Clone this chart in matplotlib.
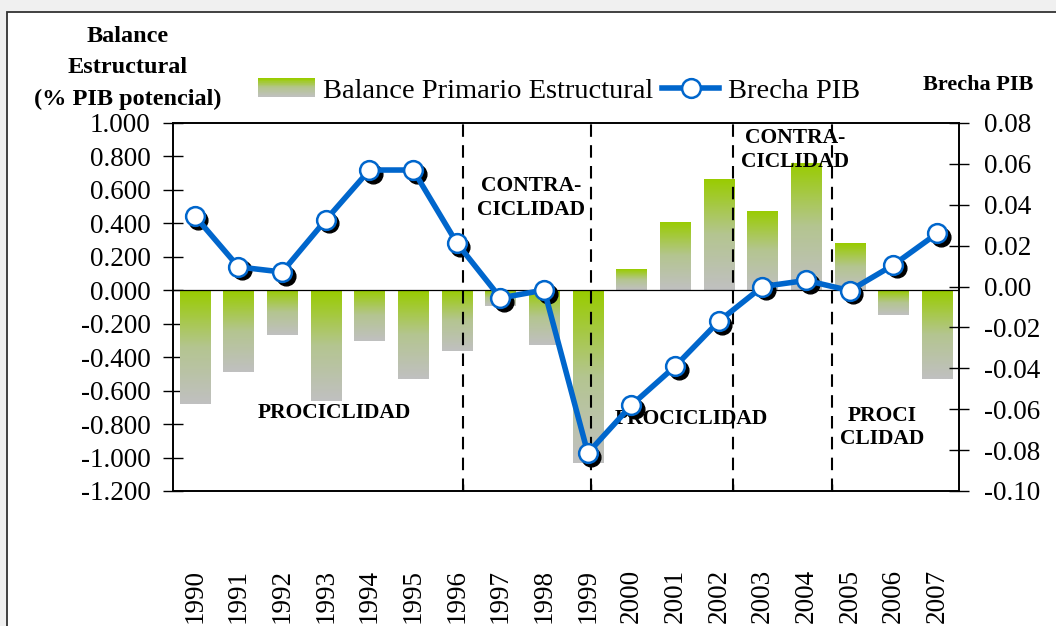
import numpy as np
import matplotlib
matplotlib.use('Agg')
import matplotlib.pyplot as plt
from matplotlib.patches import Rectangle
from matplotlib.lines import Line2D
from matplotlib.legend_handler import HandlerBase
from matplotlib.colors import LinearSegmentedColormap
import matplotlib.transforms as mtransforms
from matplotlib.ticker import FuncFormatter, FixedLocator

# ---------------- data ----------------
years = [str(y) for y in range(1990, 2008)]
balance = [-0.68, -0.49, -0.27, -0.66, -0.305, -0.53, -0.365, -0.095, -0.33,
           -1.03, 0.125, 0.41, 0.665, 0.473, 0.76, 0.28, -0.145, -0.53]
brecha = [0.0345, 0.0096, 0.0071, 0.0326, 0.057, 0.057, 0.0213, -0.0056, -0.0017,
          -0.0815, -0.058, -0.039, -0.017, 0.000, 0.003, -0.002, 0.0106, 0.026]
phase_bounds = [6.13, 9.08, 12.33, 14.6]
phase_labels = ['PROCICLIDAD', 'CONTRA-\nCICLIDAD', 'PROCICLIDAD',
                'CONTRA-\nCICLIDAD', 'PROCI\nCLIDAD']
left_ticks = [-1.2, -1.0, -0.8, -0.6, -0.4, -0.2, 0.0, 0.2, 0.4, 0.6, 0.8, 1.0]
right_ticks = [-0.10, -0.08, -0.06, -0.04, -0.02, 0.00, 0.02, 0.04, 0.06, 0.08]
bar_label = 'Balance Primario Estructural'
line_label = 'Brecha PIB'
left_title = 'Balance\nEstructural\n(% PIB potencial)'
right_title = 'Brecha PIB'

# ---------------- style ----------------
plt.rcParams['font.family'] = ['Liberation Serif', 'DejaVu Serif']
plt.rcParams['axes.unicode_minus'] = False
FS = 19.5
BLUE = '#0066CC'
cmap = LinearSegmentedColormap.from_list('g', ['#C0C0C0', '#B4C590', '#99CC00'])


def fmt(decimals):
    def f(v, pos):
        v = round(v, decimals)
        if v == 0:
            v = 0.0
        return f'{v:.{decimals}f}'
    return FuncFormatter(f)


W, H = 1056, 626
fig = plt.figure(figsize=(W / 100, H / 100), dpi=100)
fig.patch.set_facecolor('#F0F0F0')
fig.patches.append(Rectangle((7 / W, -0.1), 1.2, (H - 12) / H + 0.1,
                             transform=fig.transFigure, facecolor='white',
                             edgecolor='#333333', lw=1.3, zorder=-10))

ax = fig.add_axes([173 / W, 1 - 491 / H, (959 - 173) / W, (491 - 123) / H])
ax.set_facecolor('none')
x = np.arange(len(years))
bw = 0.69
bars = ax.bar(x, balance, bw, color='none', edgecolor='none', zorder=2)
grad = np.linspace(1, 0, 64).reshape(-1, 1)
for rect in bars:
    x0, y0 = rect.get_x(), rect.get_y()
    w, h = rect.get_width(), rect.get_height()
    lo, hi = min(y0, y0 + h), max(y0, y0 + h)
    im = ax.imshow(grad, extent=[x0, x0 + w, lo, hi], aspect='auto',
                   cmap=cmap, vmin=0, vmax=1, origin='upper', zorder=2,
                   interpolation='bilinear')
    im.set_clip_path(rect)

ax.axhline(0, color='black', lw=0.9, zorder=3)
for b in phase_bounds:
    ax.axvline(b, color='black', lw=1.5, dashes=(6, 4), zorder=3)

ax.set_xlim(-0.5, len(years) - 0.5)
ax.set_ylim(-1.2, 1.0)
ax.set_yticks(left_ticks)
ax.yaxis.set_major_formatter(fmt(3))
ax.tick_params(axis='y', direction='inout', length=14, width=1, labelsize=FS, pad=9)
ax.set_xticks(x)
ax.set_xticklabels(years, rotation=90, fontsize=FS, va='top')
ax.tick_params(axis='x', length=0, pad=56)
ax.xaxis.set_minor_locator(FixedLocator(phase_bounds))
ax.tick_params(axis='x', which='minor', direction='in', length=5, width=1)
for s in ax.spines.values():
    s.set_linewidth(1.2)

# phase annotations
tkw = dict(fontsize=15.5, fontweight='bold', ha='center', va='center',
           linespacing=1.25, zorder=4)
ax.text(3.2, -0.735, phase_labels[0], **tkw)
ax.text(7.7, 0.55, phase_labels[1], **tkw)
ax.text(11.38, -0.77, phase_labels[2], **tkw)
ax.text(13.74, 0.837, phase_labels[3], **tkw)
ax.text(15.73, -0.82, phase_labels[4], **tkw)

# secondary axis
ax2 = ax.twinx()
ax2.set_ylim(-0.10, 0.08)
ax2.set_yticks(right_ticks)
ax2.yaxis.set_major_formatter(fmt(2))
ax2.tick_params(axis='y', direction='inout', length=14, width=1, labelsize=FS, pad=11)
for s in ax2.spines.values():
    s.set_linewidth(1.2)

shadow = mtransforms.offset_copy(ax2.transData, fig=fig, x=3.5, y=-3.5, units='dots')
ax2.plot(x, brecha, linestyle='none', marker='o', ms=13.5, mfc='black',
         mec='black', transform=shadow, zorder=4)
ax2.plot(x, brecha, color=BLUE, lw=4, marker='o', ms=13.5, mfc='white',
         mec=BLUE, mew=1.8, zorder=5)


class GradientHandler(HandlerBase):
    def create_artists(self, legend, orig_handle, xdescent, ydescent,
                       width, height, fontsize, trans):
        n = 30
        arts = []
        for k in range(n):
            c = cmap(k / (n - 1))
            r = Rectangle((-xdescent, -ydescent + height * k / n), width,
                          height / n * 1.05, facecolor=c, edgecolor='none',
                          transform=trans)
            arts.append(r)
        return arts


patch_proxy = Rectangle((0, 0), 1, 1)
line_proxy = Line2D([], [], color=BLUE, lw=4, marker='o', ms=13.5,
                    mfc='white', mec=BLUE, mew=1.8)
fig.legend([patch_proxy, line_proxy], [bar_label, line_label],
           handler_map={patch_proxy: GradientHandler()},
           loc='center left', bbox_to_anchor=(258 / W, 1 - 91 / H),
           bbox_transform=fig.transFigure, ncol=2, frameon=False,
           fontsize=20.5, borderpad=0, borderaxespad=0,
           handlelength=2.0, handleheight=0.65, handletextpad=0.3,
           columnspacing=0.3)

fig.text(128 / W, 1 - 68 / H, left_title, fontsize=17.5, fontweight='bold',
         ha='center', va='center', multialignment='center', linespacing=1.62)
fig.text(978 / W, 1 - 85 / H, right_title, fontsize=16, fontweight='bold',
         ha='center', va='center')

fig.savefig('out.png', dpi=100, facecolor=fig.get_facecolor())
